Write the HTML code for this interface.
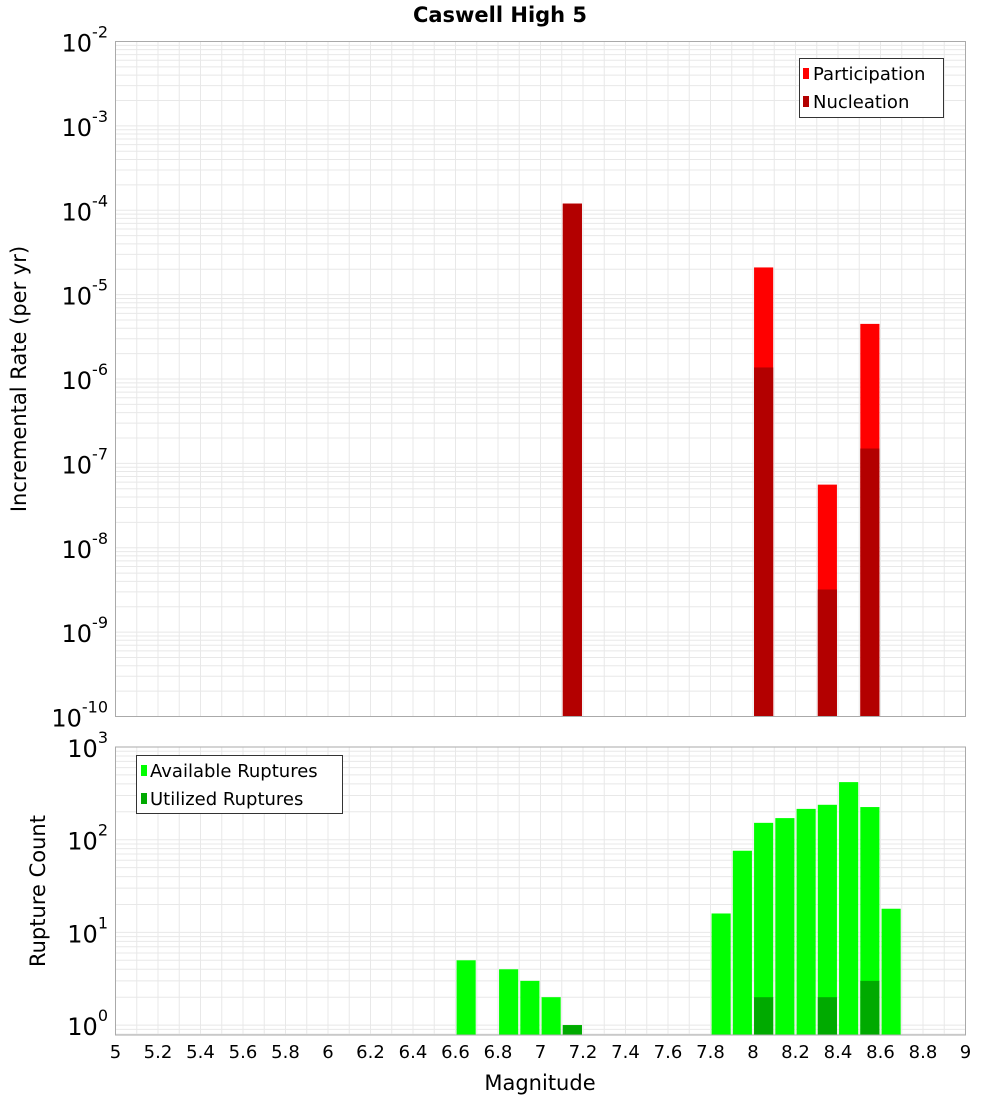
<!DOCTYPE html>
<html><head><meta charset="utf-8"><style>
body{margin:0;background:#fff;}
svg{display:block;font-family:"DejaVu Sans","Liberation Sans",sans-serif;}
</style></head><body>
<svg id="c" width="1000" height="1100" xmlns="http://www.w3.org/2000/svg">
<text x="500" y="22" text-anchor="middle" font-size="21" font-weight="bold">Caswell High 5</text>
<g id="top"></g>
<g id="bot"></g>
<text transform="translate(26,379) rotate(-90)" text-anchor="middle" font-size="21">Incremental Rate (per yr)</text>
<text transform="translate(45,891) rotate(-90)" text-anchor="middle" font-size="21">Rupture Count</text>
<text x="540" y="1090" text-anchor="middle" font-size="21">Magnitude</text>
<g>
<rect x="799.5" y="58.5" width="144" height="59" fill="#fff" stroke="#333"/>
<rect x="803" y="68" width="6" height="11" fill="#ff0000"/>
<text x="813" y="80" font-size="18">Participation</text>
<rect x="803" y="96" width="6" height="11" fill="#b30000"/>
<text x="813" y="108" font-size="18">Nucleation</text>
</g>
<g>
<rect x="136.5" y="755.5" width="206" height="58" fill="#fff" stroke="#333"/>
<rect x="141" y="765" width="6" height="11" fill="#00ff00"/>
<text x="150" y="777" font-size="18">Available Ruptures</text>
<rect x="141" y="793" width="6" height="11" fill="#00aa00"/>
<text x="150" y="805" font-size="18">Utilized Ruptures</text>
</g>
</svg>
<script>
const rateMags=[7.15,8.05,8.35,8.55];
const participation=[1.2e-4,2.1e-5,5.6e-8,4.5e-6];
const nucleation=[1.2e-4,1.37e-6,3.2e-9,1.5e-7];
const countMags=[6.65,6.85,6.95,7.05,7.15,7.85,7.95,8.05,8.15,8.25,8.35,8.45,8.55,8.65];
const available=[5,4,3,2,1,16,76,152,171,215,238,418,225,18];
const utilized=[0,0,0,0,1,0,0,2,0,0,2,0,3,0];
const xTicks=[5,5.2,5.4,5.6,5.8,6,6.2,6.4,6.6,6.8,7,7.2,7.4,7.6,7.8,8,8.2,8.4,8.6,8.8,9];
const topExp=[-2,-3,-4,-5,-6,-7,-8,-9,-10];
const botExp=[3,2,1,0];
const NS="http://www.w3.org/2000/svg";
const L=115.5,R=965.5;
const x=m=>L+(m-5)*(R-L)/4;
const yTop=v=>41.5+(-2-Math.log10(v))*84.375;
const yBot=v=>747+(3-Math.log10(v))*92.7;
function mk(p,t,a){const e=document.createElementNS(NS,t);for(const k in a)e.setAttribute(k,a[k]);p.appendChild(e);return e;}
function panel(g,top,bot,yf,lo,hi){
  for(let m=5;m<=9.0001;m+=0.1){const l=mk(g,'line',{x1:x(m),x2:x(m),y1:top,y2:bot,stroke:'#e8e8e8'});
  }
  for(let e=lo;e<hi;e++)for(let k=1;k<10;k++){const yy=yf(k*Math.pow(10,e));if(yy<top||yy>bot)continue;
    const l=mk(g,'line',{x1:L,x2:R,y1:yy,y2:yy,stroke:'#e8e8e8'});
    }
}
const gt=document.getElementById('top'),gb=document.getElementById('bot');
panel(gt,41.5,716.5,yTop,-10,-1);
panel(gb,747,1035,yBot,-1,3);
const w=0.09*(R-L)/4;
rateMags.forEach((m,i)=>{
  let r=mk(gt,'rect',{x:x(m)-w/2,y:yTop(participation[i]),width:w,height:716.5-yTop(participation[i]),fill:'#ff0000'});
  
  r=mk(gt,'rect',{x:x(m)-w/2,y:yTop(nucleation[i]),width:w,height:716.5-yTop(nucleation[i]),fill:'#b30000'});
  
});
countMags.forEach((m,i)=>{
  let r=mk(gb,'rect',{x:x(m)-w/2,y:yBot(available[i]),width:w,height:1035-yBot(available[i]),fill:'#00ff00'});
  
  if(utilized[i]>0){r=mk(gb,'rect',{x:x(m)-w/2,y:yBot(utilized[i]),width:w,height:1035-yBot(utilized[i]),fill:'#00aa00'});
  }
});
let f=mk(gt,'rect',{x:L,y:41.5,width:R-L,height:675,fill:'none',stroke:'#aaa'});

f=mk(gb,'rect',{x:L,y:747,width:R-L,height:288,fill:'none',stroke:'#aaa'});

function ylab(g,e,yy){const t=mk(g,'text',{x:108,y:yy+10,'text-anchor':'end','font-size':24});
  
  t.textContent='10';const s=mk(t,'tspan',{dy:-14,'font-size':16});s.textContent=String(e);}
topExp.forEach(e=>ylab(gt,e,yTop(Math.pow(10,e))));
botExp.forEach(e=>ylab(gb,e,yBot(Math.pow(10,e))));
xTicks.forEach(v=>{const t=mk(gb,'text',{x:x(v),y:1058,'text-anchor':'middle','font-size':18});
  
  t.textContent=String(v);});
</script>
</body></html>
